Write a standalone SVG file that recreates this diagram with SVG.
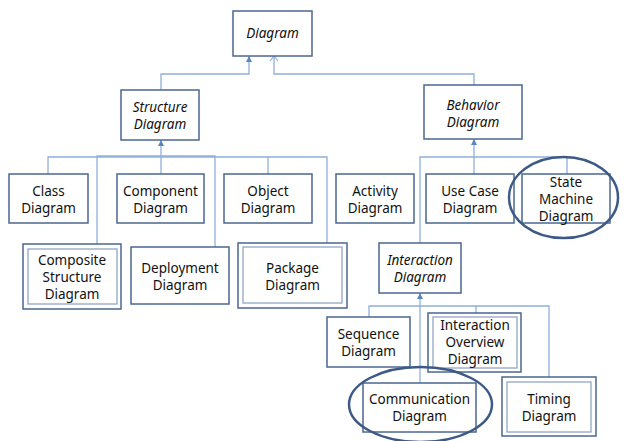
<svg xmlns="http://www.w3.org/2000/svg" width="627" height="441" viewBox="0 0 627 441">
<style>
.box{fill:#fff;stroke:#4b6790;stroke-width:1.5}
.inner{fill:none;stroke:#93a6c4;stroke-width:1.3}
.con{fill:none;stroke:#8fb0da;stroke-width:1.3}
.hl{fill:none;stroke:#3d5a86;stroke-width:2.5}
text{font-family:"Noto Sans","Liberation Sans",sans-serif;font-size:13.5px;fill:#111;text-anchor:middle}
.it{font-style:italic}
</style>
<defs>
<marker id="tri" markerUnits="userSpaceOnUse" markerWidth="6" markerHeight="6" refX="6" refY="3" orient="auto" viewBox="0 0 6 6">
<path d="M0,0 L6,3 L0,6 Z" fill="#5b85c0"/>
</marker>
<marker id="open" markerUnits="userSpaceOnUse" markerWidth="8" markerHeight="10" refX="5" refY="5" orient="auto" viewBox="0 0 6 10">
<path d="M0,1 L5,5 L0,9" fill="none" stroke="#8fb0da" stroke-width="1.1"/>
</marker>
</defs>
<g id="connectors">
<path class="con" d="M161,90 V74 H249 V56" marker-end="url(#tri)"/>
<path class="con" d="M474,85 V74 H274 V56" marker-end="url(#open)"/>
<path class="con" d="M48,174 V157 H327 V247"/>
<path class="con" d="M97,250 V156 H215 V247"/>
<path class="con" d="M161,174 V140" marker-end="url(#tri)"/>
<path class="con" d="M268,174 V157"/>
<path class="con" d="M420,243 V157 H567 V174"/>
<path class="con" d="M474,174 V139" marker-end="url(#tri)"/>
<path class="con" d="M369,317 V306 H549 V377"/>
<path class="con" d="M420,383 V293" marker-end="url(#tri)"/>
<path class="con" d="M476,313 V306"/>
</g>
<g id="diagram"><rect class="box" x="233" y="11" width="79" height="45"/><text class="it" x="272.5" y="38">Diagram</text></g>
<g id="structure"><rect class="box" x="121" y="90" width="78" height="50"/><text class="it" x="160" y="112">Structure</text><text class="it" x="160" y="129">Diagram</text></g>
<g id="behavior"><rect class="box" x="424" y="85" width="98" height="54"/><text class="it" x="473" y="110">Behavior</text><text class="it" x="473" y="127">Diagram</text></g>
<g id="class"><rect class="box" x="9" y="174" width="79" height="49"/><text x="48.5" y="196">Class</text><text x="48.5" y="213">Diagram</text></g>
<g id="component"><rect class="box" x="117" y="174" width="87" height="49"/><text x="160.5" y="196">Component</text><text x="160.5" y="213">Diagram</text></g>
<g id="object"><rect class="box" x="224" y="174" width="88" height="49"/><text x="268" y="196">Object</text><text x="268" y="213">Diagram</text></g>
<g id="activity"><rect class="box" x="336" y="174" width="78" height="49"/><text x="375" y="196">Activity</text><text x="375" y="213">Diagram</text></g>
<g id="usecase"><rect class="box" x="426" y="174" width="88" height="49"/><text x="470" y="196">Use Case</text><text x="470" y="213">Diagram</text></g>
<g id="statemachine"><rect class="box" x="522" y="174" width="88" height="49"/><text x="566" y="187">State</text><text x="566" y="204">Machine</text><text x="566" y="221">Diagram</text><ellipse class="hl" cx="563.5" cy="197.5" rx="54.5" ry="40.5"/></g>
<g id="composite"><rect class="box" x="23" y="244" width="98" height="65"/><rect class="inner" x="28" y="249" width="89" height="55"/><text x="72" y="265">Composite</text><text x="72" y="282">Structure</text><text x="72" y="299">Diagram</text></g>
<g id="deployment"><rect class="box" x="131" y="247" width="98" height="57"/><text x="180" y="273">Deployment</text><text x="180" y="290">Diagram</text></g>
<g id="package"><rect class="box" x="238" y="243" width="109" height="65"/><rect class="inner" x="243" y="247" width="99" height="56"/><text x="292.5" y="273">Package</text><text x="292.5" y="290">Diagram</text></g>
<g id="interaction"><rect class="box" x="379" y="243" width="82" height="50"/><text class="it" x="420" y="265">Interaction</text><text class="it" x="420" y="282">Diagram</text></g>
<g id="sequence"><rect class="box" x="327" y="317" width="83" height="50"/><text x="368.5" y="339">Sequence</text><text x="368.5" y="356">Diagram</text></g>
<g id="overview"><rect class="box" x="428" y="313" width="93" height="59"/><rect class="inner" x="433" y="317" width="84" height="51"/><text x="475" y="330">Interaction</text><text x="475" y="347">Overview</text><text x="475" y="364">Diagram</text></g>
<g id="communication"><rect class="box" x="363" y="383" width="113" height="49"/><text x="419.5" y="404">Communication</text><text x="419.5" y="421">Diagram</text><ellipse class="hl" cx="420.5" cy="404.5" rx="71.5" ry="37.5"/></g>
<g id="timing"><rect class="box" x="502" y="377" width="94" height="59"/><rect class="inner" x="507" y="382" width="84" height="50"/><text x="549" y="404">Timing</text><text x="549" y="421">Diagram</text></g>
</svg>
